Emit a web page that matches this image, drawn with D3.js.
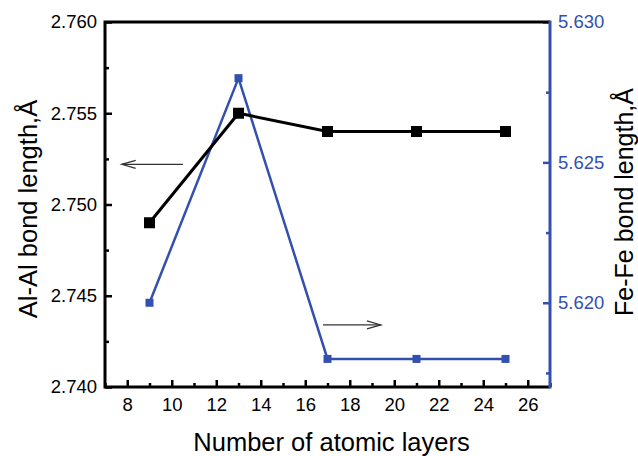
<!DOCTYPE html>
<html>
<head>
<meta charset="utf-8">
<script src="https://cdn.jsdelivr.net/npm/d3@7"></script>
<style>
  body { margin: 0; background: #fff; }
  svg { display: block; font-family: "Liberation Sans", Arial, sans-serif; }
</style>
</head>
<body>
<svg width="638" height="456"></svg>
<script>
var layers = [9, 13, 17, 21, 25];
var alBond = [2.749, 2.755, 2.754, 2.754, 2.754];
var feBond = [5.620, 5.628, 5.618, 5.618, 5.618];

var xTicks = [8, 10, 12, 14, 16, 18, 20, 22, 24, 26];
var leftTicks = [2.740, 2.745, 2.750, 2.755, 2.760];
var rightTicks = [5.620, 5.625, 5.630];

var blue = "#3350ae";

var margin = {top: 22, right: 88, bottom: 69, left: 105},
    width = 638 - margin.left - margin.right,
    height = 456 - margin.top - margin.bottom;

var svg = d3.select("svg");
var g = svg.append("g").attr("transform", "translate(" + margin.left + "," + margin.top + ")");

var x = d3.scaleLinear().domain([7, 27]).range([0, width]);
var yL = d3.scaleLinear().domain([2.740, 2.760]).range([height, 0]);
var yR = d3.scaleLinear().domain([5.617, 5.630]).range([height, 0]);

// minor ticks first
var xMinor = d3.range(7, 27.1, 1).filter(function(d) { return d % 2 == 1; });
g.append("g")
  .attr("transform", "translate(0," + height + ")")
  .call(d3.axisBottom(x).tickValues(xMinor).tickSize(-4).tickFormat(""))
  .call(function(a) { a.select(".domain").remove(); a.selectAll("line").attr("stroke-width", 2.5); });

g.append("g")
  .call(d3.axisLeft(yL).tickValues([2.7425, 2.7475, 2.7525, 2.7575]).tickSize(-4).tickFormat(""))
  .call(function(a) { a.select(".domain").remove(); a.selectAll("line").attr("stroke-width", 2.5); });

g.append("g")
  .attr("transform", "translate(" + width + ",0)")
  .call(d3.axisRight(yR).tickValues([5.6175, 5.6225, 5.6275]).tickSize(-4).tickFormat(""))
  .call(function(a) { a.select(".domain").remove(); a.selectAll("line").attr("stroke", blue).attr("stroke-width", 2.5); });

// bottom axis
g.append("g")
  .attr("transform", "translate(0," + height + ")")
  .call(d3.axisBottom(x).tickValues(xTicks).tickSize(-7).tickPadding(11))
  .call(function(a) {
    a.select(".domain").remove();
    a.selectAll("line").attr("stroke-width", 2.5);
    a.selectAll("text").attr("font-size", 18.5).attr("fill", "#000");
  });

// left axis
g.append("g")
  .call(d3.axisLeft(yL).tickValues(leftTicks).tickSize(-7).tickPadding(8).tickFormat(d3.format(".3f")))
  .call(function(a) {
    a.select(".domain").remove();
    a.selectAll("line").attr("stroke-width", 2.5);
    a.selectAll("text").attr("font-size", 18.5).attr("fill", "#000");
  });

// right axis
g.append("g")
  .attr("transform", "translate(" + width + ",0)")
  .call(d3.axisRight(yR).tickValues(rightTicks).tickSize(-7).tickPadding(8).tickFormat(d3.format(".3f")))
  .call(function(a) {
    a.select(".domain").remove();
    a.selectAll("line").attr("stroke", blue).attr("stroke-width", 2.5);
    a.selectAll("text").attr("font-size", 18.5).attr("fill", blue);
  });

// frame
g.append("path")
  .attr("d", "M" + width + ",0H0V" + height + "H" + width)
  .attr("fill", "none").attr("stroke", "#000").attr("stroke-width", 3);
g.append("line")
  .attr("x1", width).attr("x2", width).attr("y1", -1.5).attr("y2", height + 1.5)
  .attr("stroke", blue).attr("stroke-width", 3);

// Fe-Fe series
var lineR = d3.line()
  .x(function(d, i) { return x(layers[i]); })
  .y(function(d) { return yR(d); });
g.append("path")
  .datum(feBond)
  .attr("d", lineR)
  .attr("fill", "none").attr("stroke", blue).attr("stroke-width", 2.5);
g.selectAll(".fe")
  .data(feBond)
  .enter().append("rect")
  .attr("class", "fe")
  .attr("x", function(d, i) { return x(layers[i]) - 4; })
  .attr("y", function(d) { return yR(d) - 4; })
  .attr("width", 8).attr("height", 8)
  .attr("fill", blue);

// Al-Al series
var lineL = d3.line()
  .x(function(d, i) { return x(layers[i]); })
  .y(function(d) { return yL(d); });
g.append("path")
  .datum(alBond)
  .attr("d", lineL)
  .attr("fill", "none").attr("stroke", "#000").attr("stroke-width", 3);
g.selectAll(".al")
  .data(alBond)
  .enter().append("rect")
  .attr("class", "al")
  .attr("x", function(d, i) { return x(layers[i]) - 5.5; })
  .attr("y", function(d) { return yL(d) - 5.5; })
  .attr("width", 11).attr("height", 11)
  .attr("fill", "#000");

// arrows
function arrow(x1, x2, y) {
  var dir = x2 > x1 ? 1 : -1;
  g.append("line")
    .attr("x1", x1).attr("x2", x2).attr("y1", y).attr("y2", y)
    .attr("stroke", "#333").attr("stroke-width", 1.2);
  g.append("path")
    .attr("d", "M" + (x2 - dir * 14) + "," + (y - 4) + "L" + x2 + "," + y + "L" + (x2 - dir * 14) + "," + (y + 4))
    .attr("fill", "none").attr("stroke", "#333").attr("stroke-width", 1.2);
}
arrow(x(10.5), x(7.75), yL(2.7522));
arrow(x(16.8), x(19.4), yL(2.7434));

// titles
svg.append("text")
  .attr("x", margin.left + width / 2 + 4).attr("y", 451)
  .attr("text-anchor", "middle").attr("font-size", 25.5)
  .text("Number of atomic layers");

svg.append("text")
  .attr("transform", "translate(37,209) rotate(-90)")
  .attr("text-anchor", "middle").attr("font-size", 25.5)
  .text("Al-Al bond length,Å");

svg.append("text")
  .attr("transform", "translate(633,202) rotate(-90)")
  .attr("text-anchor", "middle").attr("font-size", 25)
  .text("Fe-Fe bond length,Å");
</script>
</body>
</html>
